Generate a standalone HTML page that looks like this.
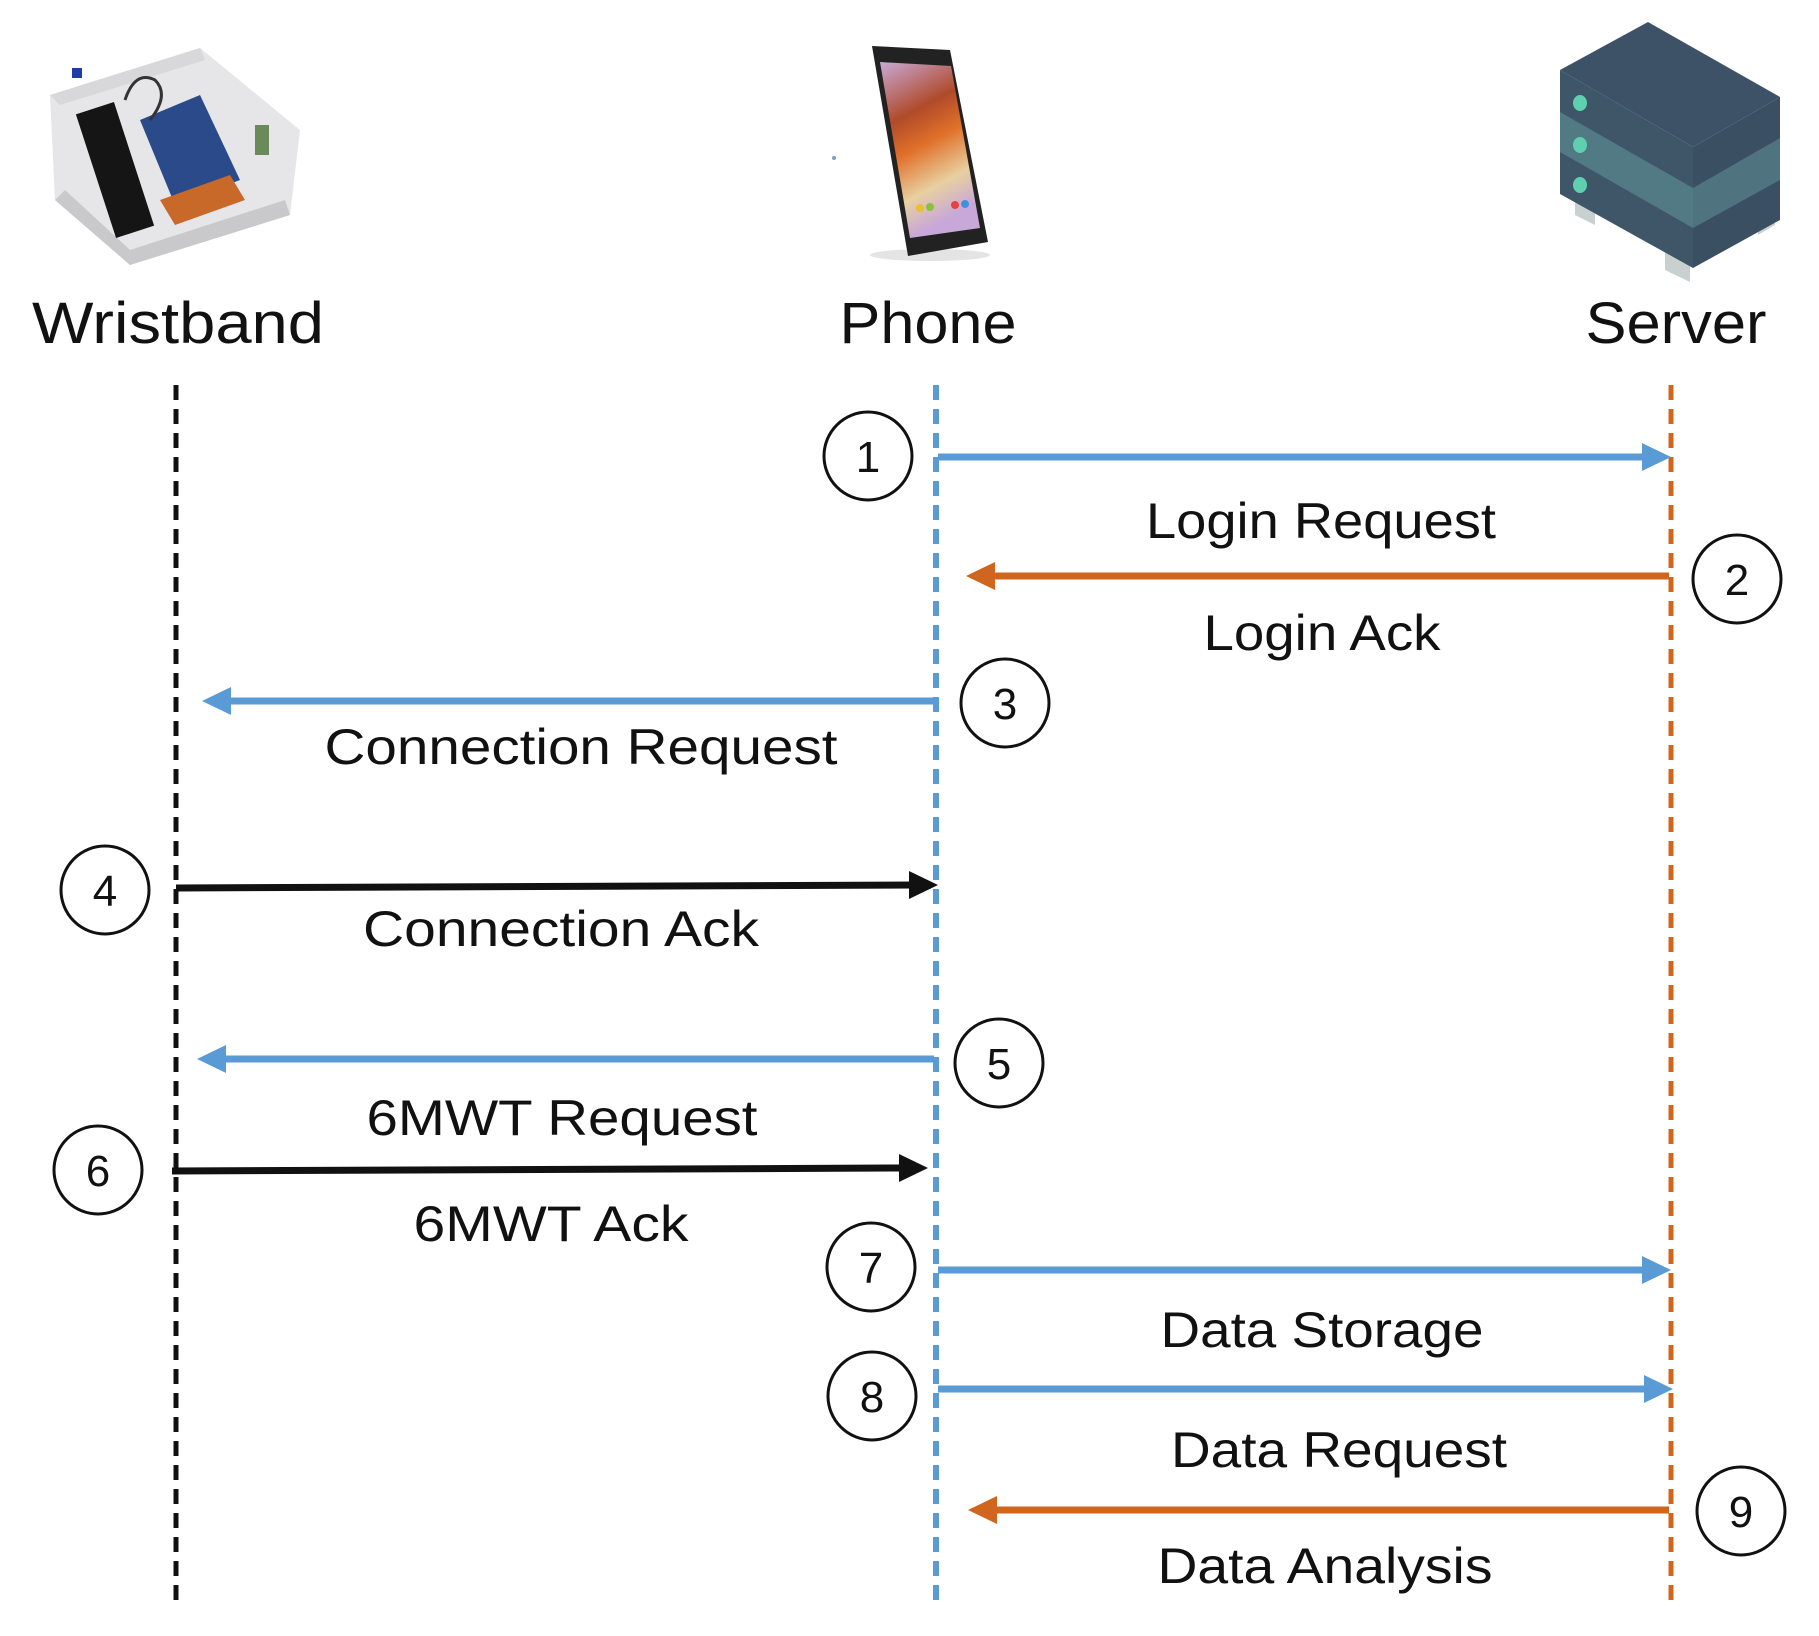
<!DOCTYPE html>
<html><head><meta charset="utf-8"><style>
html,body{margin:0;padding:0;background:#fff;}
svg{display:block}
text{font-family:"Liberation Sans",sans-serif;fill:#111;}
</style></head><body>
<svg width="1819" height="1636" viewBox="0 0 1819 1636" xmlns="http://www.w3.org/2000/svg">
<defs>
<linearGradient id="scr" x1="0" y1="0" x2="0.3" y2="1">
<stop offset="0" stop-color="#c9a9d8"/><stop offset="0.35" stop-color="#b04a2a"/><stop offset="0.55" stop-color="#e0702a"/><stop offset="0.8" stop-color="#e8d0a0"/><stop offset="1" stop-color="#c8a8d8"/>
</linearGradient>
</defs>
<g>
<polygon points="50,95 200,48 300,130 290,215 130,265 55,200" fill="#e6e6e8"/>
<polygon points="50,95 200,48 205,60 60,105" fill="#d8d8da"/>
<polygon points="55,200 130,265 290,215 285,200 130,250 65,190" fill="#c9c9cc"/>
<rect x="95" y="105" width="40" height="130" fill="#151515" transform="rotate(-18 115 170)"/>
<polygon points="140,120 200,95 240,180 175,205" fill="#2b4a8a"/>
<polygon points="160,200 230,175 245,200 175,225" fill="#c8692a"/>
<path d="M125,100 q10,-30 30,-20 q15,15 -5,40" fill="none" stroke="#333" stroke-width="3"/>
<rect x="72" y="68" width="10" height="10" fill="#1f3fa0"/>
<rect x="255" y="125" width="14" height="30" fill="#6a8a5a"/>
</g>
<g>
<ellipse cx="930" cy="255" rx="60" ry="6" fill="#e4e4e4"/>
<polygon points="872,46 950,50 988,242 908,256" fill="#222"/>
<polygon points="880,62 951,66 980,228 910,238" fill="url(#scr)"/>
<circle cx="920" cy="208" r="4" fill="#e8c030"/><circle cx="930" cy="207" r="4" fill="#8ac040"/>
<circle cx="955" cy="205" r="4" fill="#e84040"/><circle cx="965" cy="204" r="4" fill="#4090e0"/>
<circle cx="834" cy="158" r="2" fill="#7aa0d0"/>
</g>
<g>
<polygon points="1665,244 1690,256 1690,282 1665,270" fill="#c8d0d0"/>
<polygon points="1575,190 1595,200 1595,225 1575,215" fill="#c8d0d0"/>
<polygon points="1758,210 1775,200 1775,225 1758,235" fill="#c8d0d0"/>
<polygon points="1560,70 1648,22 1780,97 1693,147" fill="#3d5266"/>
<polygon points="1560,70 1693,147 1693,268 1560,194" fill="#3f5568"/>
<polygon points="1693,147 1780,97 1780,220 1693,268" fill="#3a4f62"/>
<polygon points="1560,112 1693,188 1693,228 1560,152" fill="#517a84"/>
<polygon points="1693,188 1780,138 1780,180 1693,228" fill="#4f7480"/>
<ellipse cx="1580" cy="103" rx="7" ry="8" fill="#5ed0b0"/>
<ellipse cx="1580" cy="145" rx="7" ry="8" fill="#5ed0b0"/>
<ellipse cx="1580" cy="185" rx="7" ry="8" fill="#5ed0b0"/>
</g>
<text x="178" y="343" font-size="58" text-anchor="middle" textLength="292" lengthAdjust="spacingAndGlyphs">Wristband</text>
<text x="928" y="343" font-size="58" text-anchor="middle" textLength="177" lengthAdjust="spacingAndGlyphs">Phone</text>
<text x="1676" y="343" font-size="58" text-anchor="middle" textLength="181" lengthAdjust="spacingAndGlyphs">Server</text>
<line x1="176" y1="385" x2="176" y2="1607" stroke="#111" stroke-width="5" stroke-dasharray="15,9"/>
<line x1="936" y1="385" x2="936" y2="1607" stroke="#5b9bd5" stroke-width="6" stroke-dasharray="15,9"/>
<line x1="1671" y1="385" x2="1671" y2="1607" stroke="#d0651e" stroke-width="5" stroke-dasharray="15,9"/>
<g stroke-width="7">
<line x1="938" y1="457" x2="1647" y2="457" stroke="#5b9bd5"/>
<polygon points="1671,457 1642,443 1642,471" fill="#5b9bd5" stroke="none"/>
<line x1="1669" y1="576" x2="990" y2="576" stroke="#d0651e"/>
<polygon points="966,576 995,562 995,590" fill="#d0651e" stroke="none"/>
<line x1="934" y1="701" x2="225" y2="701" stroke="#5b9bd5"/>
<polygon points="202,701 231,687 231,715" fill="#5b9bd5" stroke="none"/>
<line x1="176" y1="888" x2="913" y2="885" stroke="#111"/>
<polygon points="938,885 909,871 909,899" fill="#111" stroke="none"/>
<line x1="934" y1="1059" x2="220" y2="1059" stroke="#5b9bd5"/>
<polygon points="197,1059 226,1045 226,1073" fill="#5b9bd5" stroke="none"/>
<line x1="172" y1="1171" x2="903" y2="1168" stroke="#111"/>
<polygon points="928,1168 899,1154 899,1182" fill="#111" stroke="none"/>
<line x1="938" y1="1270" x2="1647" y2="1270" stroke="#5b9bd5"/>
<polygon points="1671,1270 1642,1256 1642,1284" fill="#5b9bd5" stroke="none"/>
<line x1="938" y1="1389" x2="1649" y2="1389" stroke="#5b9bd5"/>
<polygon points="1673,1389 1644,1375 1644,1403" fill="#5b9bd5" stroke="none"/>
<line x1="1669" y1="1510" x2="992" y2="1510" stroke="#d0651e"/>
<polygon points="968,1510 997,1496 997,1524" fill="#d0651e" stroke="none"/>
</g>
<g fill="#fff" stroke="#111" stroke-width="3">
<circle cx="868" cy="456" r="44"/><circle cx="1737" cy="579" r="44"/><circle cx="1005" cy="703" r="44"/>
<circle cx="105" cy="890" r="44"/><circle cx="999" cy="1063" r="44"/><circle cx="98" cy="1170" r="44"/>
<circle cx="871" cy="1267" r="44"/><circle cx="872" cy="1396" r="44"/><circle cx="1741" cy="1511" r="44"/>
</g>
<g font-size="44" text-anchor="middle">
<text x="868" y="472">1</text><text x="1737" y="595">2</text><text x="1005" y="719">3</text>
<text x="105" y="906">4</text><text x="999" y="1079">5</text><text x="98" y="1186">6</text>
<text x="871" y="1283">7</text><text x="872" y="1412">8</text><text x="1741" y="1527">9</text>
</g>
<g font-size="50" text-anchor="middle">
<text x="1321" y="538" textLength="350" lengthAdjust="spacingAndGlyphs">Login Request</text>
<text x="1322" y="650" textLength="237" lengthAdjust="spacingAndGlyphs">Login Ack</text>
<text x="581" y="764" textLength="513" lengthAdjust="spacingAndGlyphs">Connection Request</text>
<text x="561" y="946" textLength="396" lengthAdjust="spacingAndGlyphs">Connection Ack</text>
<text x="562" y="1135" textLength="391" lengthAdjust="spacingAndGlyphs">6MWT Request</text>
<text x="551" y="1241" textLength="275" lengthAdjust="spacingAndGlyphs">6MWT Ack</text>
<text x="1322" y="1347" textLength="323" lengthAdjust="spacingAndGlyphs">Data Storage</text>
<text x="1339" y="1467" textLength="336" lengthAdjust="spacingAndGlyphs">Data Request</text>
<text x="1325" y="1583" textLength="335" lengthAdjust="spacingAndGlyphs">Data Analysis</text>
</g>
</svg>
</body></html>
